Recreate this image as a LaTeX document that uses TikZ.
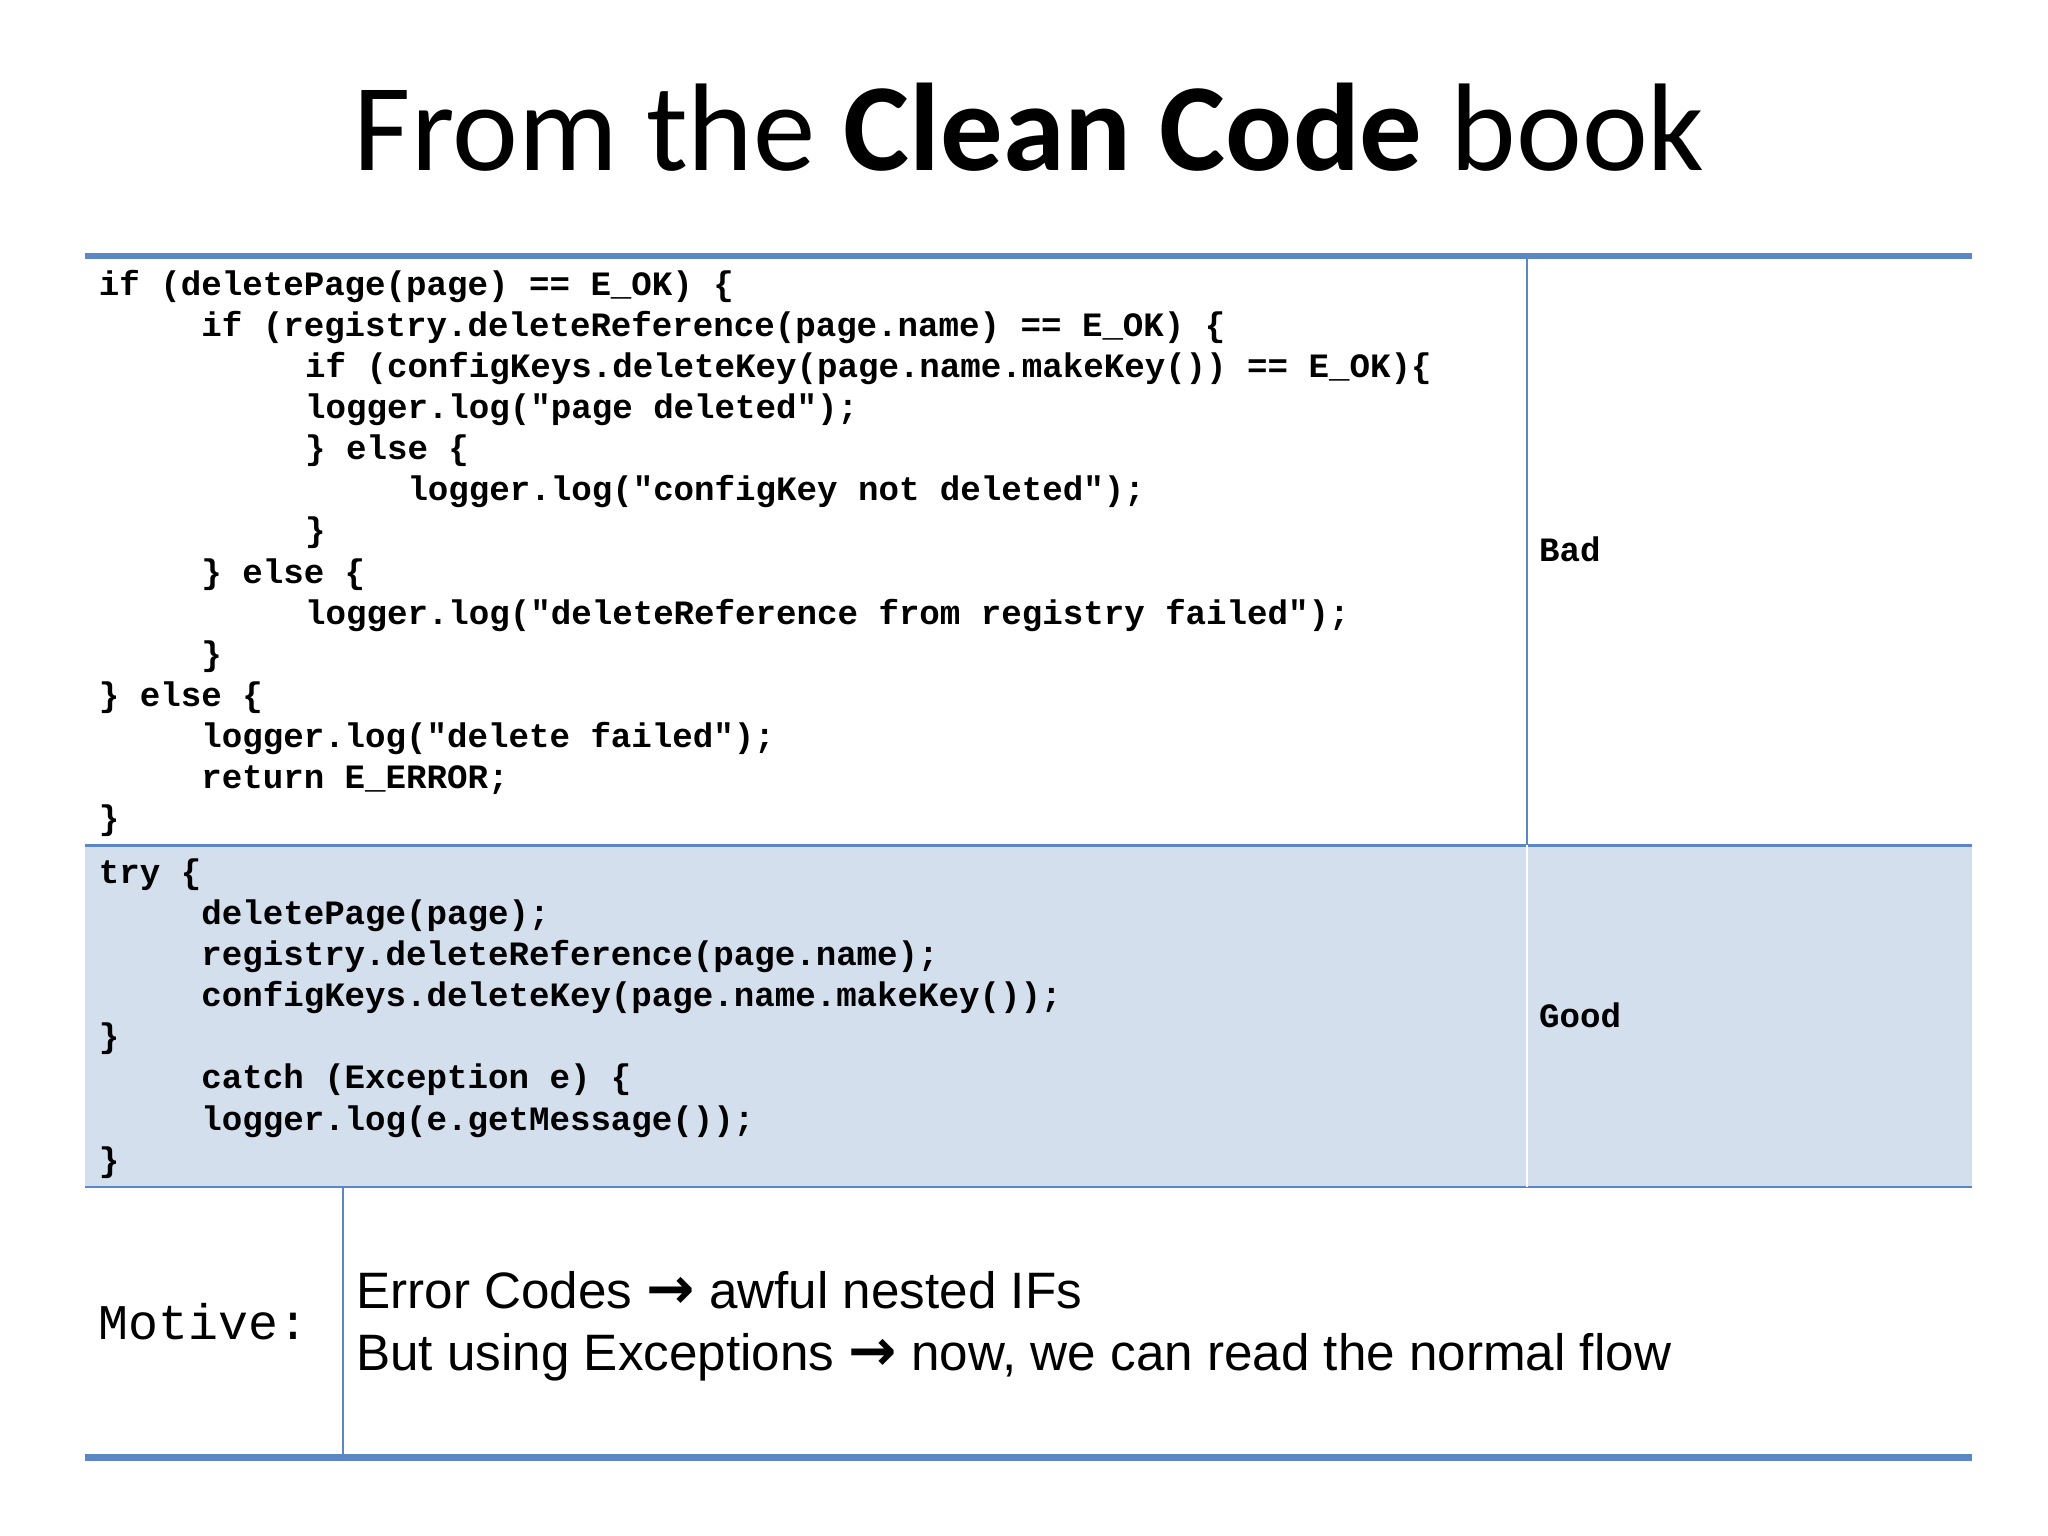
\documentclass[tikz,border=0pt]{standalone}
\usepackage{fontspec}
\setmainfont{Carlito}
\newfontfamily\codefont{Liberation Mono}
\newfontfamily\arialfont{Liberation Sans}
\newfontfamily\arrowfont{DejaVu Sans}
\newcommand{\myarr}{{\arrowfont\bfseries\fontsize{22}{22}\selectfont →}}
\definecolor{rule}{HTML}{5B87C5}
\definecolor{rowblue}{HTML}{D4DFEE}
\begin{document}
\begin{tikzpicture}[x=0.5pt,y=-0.5pt,
  code/.style={anchor=base west,inner sep=0pt,font=\codefont\bfseries\fontsize{13}{15}\selectfont},
  lbl/.style={anchor=base west,inner sep=0pt}]
\useasboundingbox (0,0) rectangle (1560,1170);
\fill[rowblue] (65,644) rectangle (1502,904);
\draw[rule,line width=2.5pt] (65,195) -- (1502,195);
\draw[rule,line width=2.5pt] (65,1110) -- (1502,1110);
\draw[rule,line width=0.8pt] (65,644) -- (1502,644);
\draw[rule,line width=0.8pt] (65,904) -- (1502,904);
\draw[rule,line width=0.8pt] (1163,195) -- (1163,644);
\draw[white,line width=0.8pt] (1163,644) -- (1163,904);
\draw[rule,line width=0.8pt] (261,904) -- (261,1110);
\node[lbl,font=\fontsize{47.5}{50}\selectfont,anchor=base] (title) at (784,130) {From the \textbf{Clean Code} book};
% Bad code
\node[code] (b1) at (75,225) {if (deletePage(page) == E\_OK) \{};
\node[code] (b2) at (153,256.3) {if (registry.deleteReference(page.name) == E\_OK) \{};
\node[code] (b3) at (232,287.6) {if (configKeys.deleteKey(page.name.makeKey()) == E\_OK)\{};
\node[code] (b4) at (232,318.9) {logger.log("page deleted");};
\node[code] (b5) at (232,350.2) {\} else \{};
\node[code] (b6) at (310,381.5) {logger.log("configKey not deleted");};
\node[code] (b7) at (232,412.8) {\}};
\node[code] (b8) at (153,444.1) {\} else \{};
\node[code] (b9) at (232,475.4) {logger.log("deleteReference from registry failed");};
\node[code] (b10) at (153,506.7) {\}};
\node[code] (b11) at (75,538) {\} else \{};
\node[code] (b12) at (153,569.3) {logger.log("delete failed");};
\node[code] (b13) at (153,600.6) {return E\_ERROR;};
\node[code] (b14) at (75,631.9) {\}};
% Good code
\node[code] (g1) at (75,673) {try \{};
\node[code] (g2) at (153,704.3) {deletePage(page);};
\node[code] (g3) at (153,735.6) {registry.deleteReference(page.name);};
\node[code] (g4) at (153,766.9) {configKeys.deleteKey(page.name.makeKey());};
\node[code] (g5) at (75,798.2) {\}};
\node[code] (g6) at (153,829.5) {catch (Exception e) \{};
\node[code] (g7) at (153,860.8) {logger.log(e.getMessage());};
\node[code] (g8) at (75,892.1) {\}};
\node[code] (bad) at (1172,428) {Bad};
\node[code] (good) at (1172,783) {Good};
\node[lbl,font=\codefont\fontsize{19}{22}\selectfont] (motive) at (75,1020) {Motive:};
\node[lbl,font=\arialfont\fontsize{19.5}{22}\selectfont] (m1) at (271,997) {Error Codes \myarr{} awful nested IFs};
\node[lbl,font=\arialfont\fontsize{19.5}{22}\selectfont] (m2) at (271,1044) {But using Exceptions \myarr{} now, we can read the normal flow};
\end{tikzpicture}
\end{document}
